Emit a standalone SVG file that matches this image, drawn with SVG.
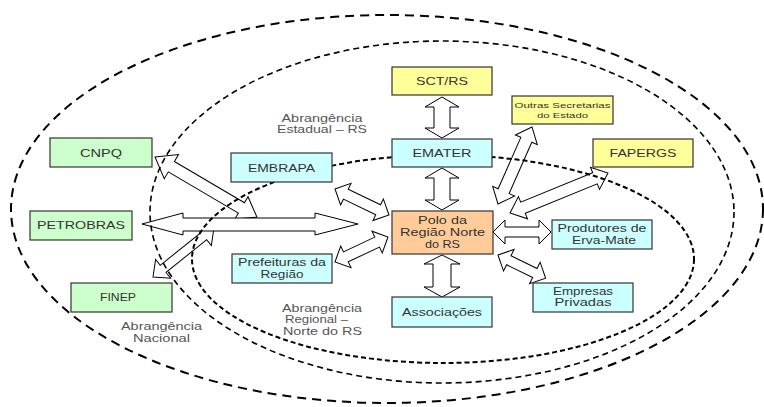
<svg xmlns="http://www.w3.org/2000/svg" width="764" height="407" viewBox="0 0 764 407">
<style>
.box{stroke:#333;stroke-width:1.2}
.g{fill:#CCFFCC}.c{fill:#CCFFFF}.y{fill:#FFFF99}.o{fill:#FFCC99}
.t{font-family:"Liberation Sans",Arial,sans-serif;font-size:11.5px;fill:#333;text-anchor:middle}
.s{font-size:8px}
.lbl{font-family:"Liberation Sans",Arial,sans-serif;font-size:11px;fill:#555;text-anchor:middle}
.arr{fill:#fff;stroke:#000;stroke-width:1;stroke-linejoin:miter}
.ell{fill:none;stroke:#000}
</style>
<rect width="764" height="407" fill="#fff"/>
<g id="connectors">
<polygon class="arr" points="442,97 425,107 434,107 434,128 425,128 442,138 459,128 450,128 450,107 459,107"/>
<polygon class="arr" points="442,168 425,178 434,178 434,200 425,200 442,210 459,200 450,200 450,178 459,178"/>
<polygon class="arr" points="442,255 424,264 433,264 433,287 424,287 442,297 460,287 451,287 451,264 460,264"/>
<polygon class="arr" points="493,232 505,220 505,227 539,227 539,220 551,232 539,244 539,237 505,237 505,244"/>
<polygon class="arr" transform="translate(498,255) rotate(26)" points="0,0 12,-12 12,-5 41,-5 41,-12 53,0 41,12 41,5 12,5 12,12"/>
<polygon class="arr" transform="translate(498,204) rotate(-66.2)" points="0,0 14,-12 14,-6 70.2,-6 70.2,-12 84.2,0 70.2,12 70.2,6 14,6 14,12"/>
<polygon class="arr" transform="translate(510,213) rotate(-22.2)" points="0,0 14,-12 14,-6 91.8,-6 91.8,-12 105.8,0 91.8,12 91.8,6 14,6 14,12"/>
<polygon class="arr" transform="translate(335,189) rotate(25.7)" points="0,0 12,-12 12,-5.5 47.9,-5.5 47.9,-12 59.9,0 47.9,12 47.9,5.5 12,5.5 12,12"/>
<polygon class="arr" transform="translate(335,262) rotate(-25.3)" points="0,0 12,-12 12,-5.5 46.6,-5.5 46.6,-12 58.6,0 46.6,12 46.6,5.5 12,5.5 12,12"/>
<polygon class="arr" transform="translate(155,157) rotate(30.5)" points="0,0 19,-14 19,-6 100.3,-6 100.3,-13 118.3,0 100.3,13 100.3,6 19,6 19,14"/>
<polygon class="arr" stroke-width="0.8" transform="translate(153,277) rotate(-38.8)" points="0,0 13,-12 13,-4.6 65.2,-4.6 65.2,-12 78.2,0 65.2,12 65.2,4.6 13,4.6 13,12"/>
<polygon class="arr" stroke-width="3" points="142,224 183,213 183,218 315,218 315,213 358,224 315,235 315,231 183,231 183,235"/>
</g>
<g id="regions">
<ellipse class="ell" cx="387" cy="209" rx="376" ry="194" stroke-width="2" stroke-dasharray="9 6"/>
<ellipse class="ell" cx="442" cy="212" rx="292" ry="171" stroke-width="1.6" stroke-dasharray="6 4"/>
<ellipse class="ell" cx="443" cy="259" rx="251" ry="104" stroke-width="2" stroke-dasharray="5 3"/>
</g>
<g id="sctrs"><rect class="box y" x="392" y="67" width="100" height="28"/><text class="t" x="442" y="85" textLength="52" lengthAdjust="spacingAndGlyphs">SCT/RS</text></g>
<g id="outras"><rect class="box y" x="512" y="96" width="101" height="28"/><text class="t s" x="562.5" y="108" textLength="96" lengthAdjust="spacingAndGlyphs">Outras Secretarias</text><text class="t s" x="562.5" y="118" textLength="51" lengthAdjust="spacingAndGlyphs">do Estado</text></g>
<g id="emater"><rect class="box c" x="392" y="139" width="100" height="28"/><text class="t" x="442" y="157" textLength="59" lengthAdjust="spacingAndGlyphs">EMATER</text></g>
<g id="fapergs"><rect class="box y" x="593" y="139" width="100" height="28"/><text class="t" x="643" y="157" textLength="67" lengthAdjust="spacingAndGlyphs">FAPERGS</text></g>
<g id="cnpq"><rect class="box g" x="50" y="138" width="102" height="29"/><text class="t" x="101" y="157" textLength="42" lengthAdjust="spacingAndGlyphs">CNPQ</text></g>
<g id="embrapa"><rect class="box c" x="231" y="153" width="101" height="29"/><text class="t" x="281.5" y="172" textLength="67" lengthAdjust="spacingAndGlyphs">EMBRAPA</text></g>
<g id="petrobras"><rect class="box g" x="30" y="211" width="102" height="29"/><text class="t" x="81" y="229" textLength="88" lengthAdjust="spacingAndGlyphs">PETROBRAS</text></g>
<g id="prefeituras"><rect class="box c" x="232" y="254" width="100" height="29"/><text class="t" x="282" y="266" textLength="88" lengthAdjust="spacingAndGlyphs">Prefeituras da</text><text class="t" x="282" y="278" textLength="43" lengthAdjust="spacingAndGlyphs">Região</text></g>
<g id="finep"><rect class="box g" x="71" y="283" width="101" height="29"/><text class="t" x="118" y="301" textLength="36" lengthAdjust="spacingAndGlyphs">FINEP</text></g>
<g id="polo"><rect class="box o" x="392" y="211" width="101" height="43"/><text class="t" x="442.5" y="224" textLength="49" lengthAdjust="spacingAndGlyphs">Polo da</text><text class="t" x="442.5" y="236" textLength="85" lengthAdjust="spacingAndGlyphs">Região Norte</text><text class="t" x="442.5" y="248" textLength="35" lengthAdjust="spacingAndGlyphs">do RS</text></g>
<g id="produtores"><rect class="box c" x="552" y="220" width="100" height="29"/><text class="t" x="602" y="232" textLength="89" lengthAdjust="spacingAndGlyphs">Produtores de</text><text class="t" x="604" y="244" textLength="64" lengthAdjust="spacingAndGlyphs">Erva-Mate</text></g>
<g id="empresas"><rect class="box c" x="533" y="283" width="100" height="29"/><text class="t" x="583" y="295" textLength="60" lengthAdjust="spacingAndGlyphs">Empresas</text><text class="t" x="583" y="306" textLength="57" lengthAdjust="spacingAndGlyphs">Privadas</text></g>
<g id="associacoes"><rect class="box c" x="392" y="297" width="100" height="30"/><text class="t" x="442" y="316" textLength="80" lengthAdjust="spacingAndGlyphs">Associações</text></g>
<g id="labels">
<text class="lbl" x="322" y="122" textLength="81" lengthAdjust="spacingAndGlyphs">Abrangência</text>
<text class="lbl" x="322" y="133" textLength="90" lengthAdjust="spacingAndGlyphs">Estadual – RS</text>
<text class="lbl" x="161.5" y="330" textLength="81" lengthAdjust="spacingAndGlyphs">Abrangência</text>
<text class="lbl" x="161.5" y="342" textLength="57" lengthAdjust="spacingAndGlyphs">Nacional</text>
<text class="lbl" x="322" y="312" textLength="80" lengthAdjust="spacingAndGlyphs">Abrangência</text>
<text class="lbl" x="316.5" y="323" textLength="63" lengthAdjust="spacingAndGlyphs">Regional –</text>
<text class="lbl" x="322.5" y="335" textLength="79" lengthAdjust="spacingAndGlyphs">Norte do RS</text>
</g>
</svg>
